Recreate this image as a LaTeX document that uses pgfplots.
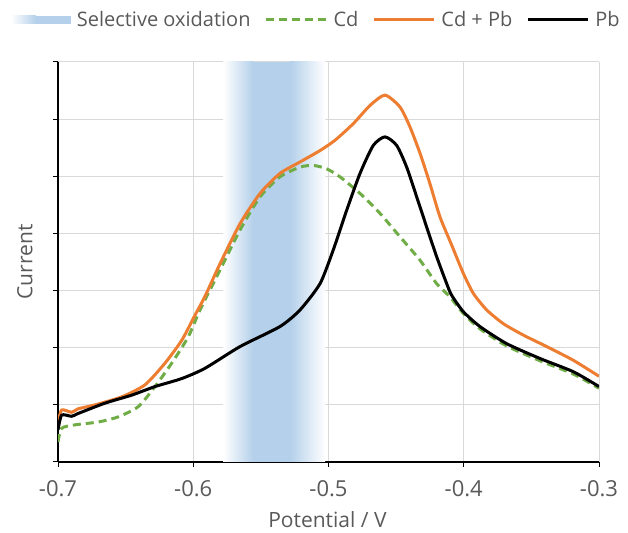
\documentclass[border=0pt]{standalone}
\usepackage{fontspec}
\setmainfont{Open Sans}
\usepackage{pgfplots}
\pgfplotsset{compat=1.18}
\definecolor{bandblue}{RGB}{180,208,234}
\definecolor{cdgreen}{RGB}{112,173,71}
\definecolor{cdpborange}{RGB}{237,125,49}
\definecolor{txtgrey}{RGB}{89,89,89}
\definecolor{gridgrey}{RGB}{217,217,217}
\begin{document}
\begin{tikzpicture}
\begin{axis}[
  scale only axis, width=541bp, height=400bp,
  xmin=-0.7, xmax=-0.3, ymin=0, ymax=7,
  axis x line=bottom, axis y line=left,
  axis line style={-, black, line width=1.2bp},
  xtick={-0.7,-0.6,-0.5,-0.4,-0.3},
  xticklabels={-0.7,-0.6,-0.5,-0.4,-0.3},
  ytick={0,1,2,3,4,5,6,7}, yticklabels={ , , , , , , , },
  tick align=outside, major tick length=5bp,
  tick style={black, line width=1bp},
  grid=major, grid style={gridgrey, line width=1bp},
  ticklabel style={font=\fontsize{22bp}{26bp}\selectfont, text=txtgrey},
  xticklabel style={anchor=center, yshift=-22bp},
  /pgf/number format/assume math mode=true,
  xlabel={Potential / V}, ylabel={Current},
  label style={font=\fontsize{21bp}{25bp}\selectfont, text=txtgrey},
  xlabel style={at={(axis description cs:0.498,-0.145)}, anchor=center},
  ylabel style={at={(axis description cs:-0.061,0.5)}, anchor=center},
  legend style={at={(axis description cs:-0.087,1.105)}, anchor=west, draw=none, fill=none,
    inner sep=0pt, outer sep=0pt,
    font=\fontsize{20bp}{24bp}\selectfont, text=txtgrey,
    legend columns=-1,
    /tikz/every odd column/.append style={column sep=4bp},
    /tikz/every even column/.append style={column sep=12bp}},
  legend cell align=left,
  legend image code/.code={\draw[#1] (0bp,0bp) -- (60bp,0bp);},
]
% selective oxidation band
\path[draw=none, left color=white, right color=bandblue] (axis cs:-0.578,0) rectangle (axis cs:-0.5555,7);
\fill[bandblue] (axis cs:-0.5555,0) rectangle (axis cs:-0.5285,7);
\path[draw=none, left color=bandblue, right color=white] (axis cs:-0.5285,0) rectangle (axis cs:-0.5025,7);
\addlegendimage{legend image code/.code={\path[draw=none, left color=white, right color=bandblue] (0bp,-4bp) rectangle (25bp,4bp); \fill[draw=none, bandblue] (25bp,-4bp) rectangle (60bp,4bp);}}
\addlegendentry{Selective oxidation}

\addplot[cdgreen, line width=3bp, dash pattern=on 8bp off 5bp, smooth, tension=0.4] coordinates {
(-0.700,0.35) (-0.6973,0.59) (-0.6874,0.65) (-0.6702,0.70) (-0.6554,0.79)
(-0.6406,0.97) (-0.6283,1.32) (-0.6159,1.73) (-0.6037,2.19) (-0.5950,2.66)
(-0.5802,3.36) (-0.5654,4.06) (-0.5506,4.64) (-0.5359,4.99) (-0.5211,5.16)
(-0.5112,5.19) (-0.5013,5.13) (-0.4915,4.99) (-0.4767,4.70) (-0.4619,4.35)
(-0.4471,3.94) (-0.4323,3.53) (-0.4200,3.12) (-0.4102,2.89) (-0.4003,2.60)
(-0.3880,2.33) (-0.3682,2.03) (-0.3435,1.77) (-0.3190,1.54) (-0.3000,1.29)};
\addlegendentry{Cd}

\addplot[cdpborange, line width=3bp, smooth, tension=0.4] coordinates {
(-0.700,0.68) (-0.6973,0.91) (-0.6899,0.87) (-0.6852,0.93) (-0.6726,1.00)
(-0.6529,1.14) (-0.6357,1.35) (-0.6209,1.73) (-0.6085,2.13) (-0.5987,2.57)
(-0.5913,2.90) (-0.5802,3.47) (-0.5654,4.17) (-0.5506,4.70) (-0.5359,5.05)
(-0.5211,5.25) (-0.5063,5.45) (-0.4952,5.63) (-0.4817,5.92) (-0.4693,6.24)
(-0.4582,6.42) (-0.4471,6.21) (-0.4397,5.86) (-0.4323,5.40) (-0.4250,4.87)
(-0.4176,4.29) (-0.4090,3.80) (-0.4003,3.30) (-0.3929,2.95) (-0.3830,2.66)
(-0.3707,2.42) (-0.3559,2.22) (-0.3387,2.02) (-0.3190,1.78) (-0.3000,1.50)};
\addlegendentry{Cd + Pb}

\addplot[black, line width=3bp, smooth, tension=0.4] coordinates {
(-0.700,0.56) (-0.6973,0.82) (-0.6899,0.80) (-0.6850,0.85) (-0.6652,1.03)
(-0.6455,1.17) (-0.6283,1.32) (-0.6085,1.46) (-0.5913,1.64) (-0.5654,2.02)
(-0.5359,2.37) (-0.5211,2.66) (-0.5063,3.12) (-0.4965,3.71) (-0.4865,4.41)
(-0.4767,5.05) (-0.4669,5.54) (-0.4582,5.69) (-0.4496,5.54) (-0.4422,5.16)
(-0.4348,4.64) (-0.4274,4.11) (-0.4200,3.59) (-0.4126,3.12) (-0.4090,2.92)
(-0.4003,2.63) (-0.3880,2.37) (-0.3682,2.07) (-0.3435,1.81) (-0.3190,1.58)
(-0.3000,1.32)};
\addlegendentry{Pb\hspace*{-12bp}}
\end{axis}
\path ([shift={(-58bp,-71bp)}]current axis.south west) rectangle ([shift={(29bp,62bp)}]current axis.north east);
\end{tikzpicture}
\end{document}
